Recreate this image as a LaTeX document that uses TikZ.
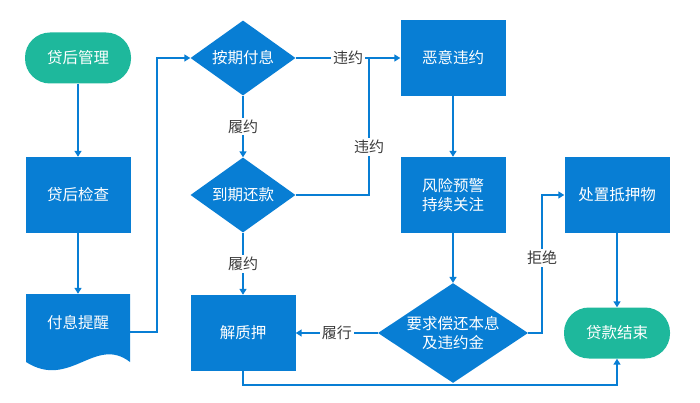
\documentclass[tikz,border=0pt]{standalone}
\usepackage{fontspec}
\setmainfont{Noto Sans CJK SC}
\usetikzlibrary{shapes.geometric,arrows.meta}
\definecolor{fblue}{RGB}{8,126,212}
\definecolor{fteal}{RGB}{30,184,156}
\definecolor{lbl}{RGB}{60,60,60}
\begin{document}
\begin{tikzpicture}[x=1pt,y=-1pt,
  txt/.style={text=white,font=\fontsize{15.5}{19}\selectfont,align=center,inner sep=0pt},
  box/.style={txt,fill=fblue,minimum width=105pt,minimum height=76pt},
  term/.style={txt,fill=fteal,rounded corners=25pt,minimum width=106pt,minimum height=51pt},
  dia/.style={txt,diamond,aspect=1.4,fill=fblue,minimum width=105pt,minimum height=75pt},
  bigdia/.style={dia,minimum width=150pt,minimum height=76pt},
  conn/.style={draw=fblue,line width=1.6pt},
  arr/.style={conn,-{Triangle[length=6pt,width=7pt]}},
  lab/.style={fill=white,text=lbl,font=\fontsize{15}{17}\selectfont,inner sep=2pt}]
\useasboundingbox (0,0) rectangle (700,403);
% document shape
\fill[fblue] (26,294) -- (130,294) -- (130,362) .. controls (95,335) and (70,390) .. (26,362) -- cycle;
\node[txt,minimum width=104pt,minimum height=58pt] (rem) at (78,323) {付息提醒};
\coordinate (remr) at (130,332);
% nodes
\node[term] (t1) at (78,58) {贷后管理};
\node[box] (b1) at (78,195) {贷后检查};
\node[dia] (d1) at (243,58) {按期付息};
\node[dia] (d2) at (243,195) {到期还款};
\node[box] (p1) at (243,333) {解质押};
\node[box] (m1) at (453,58) {恶意违约};
\node[box] (w1) at (453,195) {风险预警\\持续关注};
\node[bigdia] (r1) at (453,333) {要求偿还本息\\及违约金};
\node[box] (h1) at (617,195) {处置抵押物};
\node[term] (e1) at (617,333) {贷款结束};
\coordinate (j1) at (369,58);
% connectors
\draw[arr] (t1) -- (b1);
\draw[arr] (b1) -- (rem);
\draw[arr] (remr) -- (157,332) |- (d1.west);
\draw[arr] (d1) -- node[lab] {履约} (d2);
\draw[arr] (d2) -- node[lab] {履约} (p1);
\draw[arr] (d1.east) -- node[lab] {违约} (m1.west);
\draw[conn] (d2.east) -| (j1);
\node[lab] at (369,147) {违约};
\draw[arr] (m1) -- (w1);
\draw[arr] (w1) -- (r1);
\draw[arr] (r1.west) -- node[lab] {履行} (p1.east);
\draw[arr] (r1.east) -- (542,333) |- (h1.west);
\node[lab] at (542,258) {拒绝};
\draw[arr] (h1) -- (e1);
\draw[arr] (p1.south) -- (243,385) -| (e1.south);
\end{tikzpicture}
\end{document}
